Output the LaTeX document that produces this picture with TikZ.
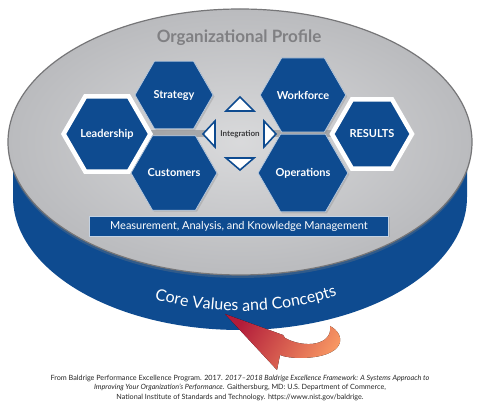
\documentclass[tikz,border=0pt]{standalone}
\usepackage{fontspec}
\setmainfont{Lato}
\usepackage{tikz}
\usetikzlibrary{shapes.geometric,shadows,decorations.text}
\definecolor{baldblue}{RGB}{14,75,144}
\definecolor{rimgray}{RGB}{186,187,190}
\definecolor{rimline}{RGB}{118,118,120}
\definecolor{proftext}{RGB}{128,128,131}
\definecolor{inttext}{RGB}{60,60,62}
\definecolor{arrdark}{RGB}{178,28,58}
\definecolor{arrmid}{RGB}{226,46,64}
\definecolor{arrlight}{RGB}{250,155,100}
\tikzset{
  hexbox/.style  = {regular polygon,regular polygon sides=6,
                    minimum size=78pt,inner sep=0pt,fill=baldblue,draw=white!70!baldblue,
                    line width=0.7pt,text=white,font=\fontsize{11}{12}\selectfont\bfseries,
                    drop shadow={opacity=0.3,shadow xshift=1.5pt,shadow yshift=-1.5pt}},
  rimhex/.style  = {hexbox,minimum size=80pt,draw=white,line width=4.5pt},
  intarr/.style  = {fill=white,draw=baldblue,line width=1.6pt,line join=miter},
  gapband/.style = {line width=7pt,draw=rimgray!80!black,opacity=0.7},
  mabar/.style   = {rectangle,minimum width=299pt,minimum height=20pt,inner sep=0pt,
                    fill=baldblue,draw=white!75!baldblue,line width=0.8pt,text=white,
                    font=\fontsize{11}{12}\selectfont,
                    drop shadow={opacity=0.3,shadow xshift=1.5pt,shadow yshift=-1.5pt}},
  citenote/.style = {align=center,text=black!85,font=\fontsize{7.2}{9.5}\selectfont}
}
\begin{document}
\begin{tikzpicture}[x=1pt,y=1pt]
  \useasboundingbox (0,0) rectangle (480,407);
  \fill[white] (0,0) rectangle (480,407);
  \fill[baldblue] (13,265) -- (13,210) arc (180:360:227 and 133) -- (467,265) -- cycle;
  \draw[rimline,line width=1.2pt,inner color=rimgray!55!white,outer color=rimgray,
        drop shadow={opacity=0.3,shadow xshift=0pt,shadow yshift=-3pt}]
        (240,265) ellipse (232 and 133);
  \node[font=\fontsize{17}{17}\selectfont\bfseries,text=proftext] (prof) at (239,369) {Organizational Profile};
  \coordinate (intl) at (209,273);
  \coordinate (intr) at (270,273);
  \coordinate (leadc) at (107,273);
  \coordinate (resc) at (372,273);
  \draw[gapband] (leadc) -- (intl);
  \draw[gapband] (intr) -- (resc);
  \node[hexbox] (strat) at (174,312) {Strategy};
  \node[hexbox] (work)  at (303,312) {Workforce};
  \node[rimhex] (lead)  at (leadc) {Leadership};
  \node[rimhex] (res)   at (resc) {RESULTS};
  \node[hexbox] (cust)  at (174,234) {Customers};
  \node[hexbox] (oper)  at (303,234) {Operations};
  \node[font=\fontsize{8}{9}\selectfont\bfseries,text=inttext] (integ) at (240,273) {Integration};
  \draw[intarr] (226,296) -- (254,296) -- (240,310) -- cycle;
  \draw[intarr] (226,249) -- (254,249) -- (240,237) -- cycle;
  \draw[intarr] (215,260) -- (215,286) -- (203,273) -- cycle;
  \draw[intarr] (264,260) -- (264,286) -- (276,273) -- cycle;
  \node[mabar] (meas) at (239,181) {Measurement, Analysis, and Knowledge Management};
  \path[decorate,decoration={text along path,text align=center,text color=white,
        text={|\fontsize{16}{16}\selectfont|Core Values and Concepts}}]
        (240,208) ++(242:190 and 112) arc (242:302:190 and 112);
  \fill[left color=arrdark,middle color=arrmid,right color=arrlight,shading angle=60]
        (225,93) -- (283,72) -- (285,69) .. controls (305,58) and (333,62) .. (330,81)
        .. controls (347,72) and (346,50) .. (302,49)
        .. controls (292,49) and (285,50) .. (280,52) -- (277,37) -- cycle;
  \node[citenote] (cite) at (240,19) {From Baldrige Performance Excellence Program. 2017. \textit{2017–2018 Baldrige Excellence Framework: A Systems Approach to}\\
    \textit{Improving Your Organization’s Performance}. Gaithersburg, MD: U.S. Department of Commerce,\\
    National Institute of Standards and Technology. https://www.nist.gov/baldrige.};
\end{tikzpicture}
\end{document}
